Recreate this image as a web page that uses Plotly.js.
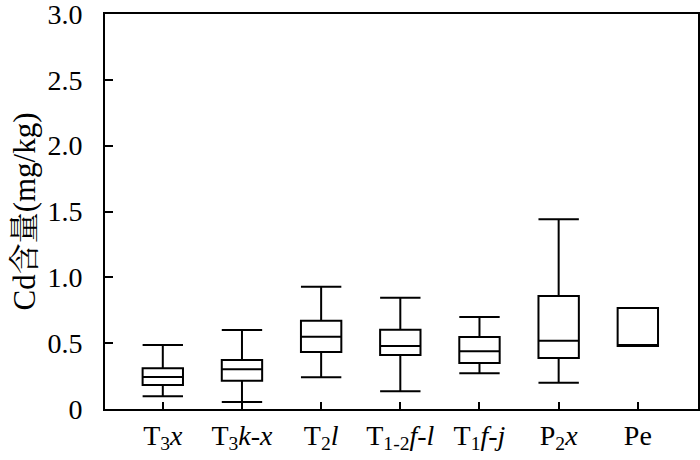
<!DOCTYPE html>
<html><head><meta charset="utf-8">
<script src="https://cdn.plot.ly/plotly-3.0.1.min.js"></script>
<style>html,body{margin:0;padding:0;background:#fff;}#chart{width:700px;height:460px;}</style>
</head><body><div id="chart"></div>
<script>
const categories = ['T<sub>3</sub><i>x</i>','T<sub>3</sub><i>k</i>-<i>x</i>','T<sub>2</sub><i>l</i>','T<sub>1-2</sub><i>f</i>-<i>l</i>','T<sub>1</sub><i>f</i>-<i>j</i>','P<sub>2</sub><i>x</i>','Pe'];
const lowerWhisker = [0.096, 0.053, 0.241, 0.134, 0.271, 0.200, 0.478];
const q1Values     = [0.182, 0.215, 0.433, 0.410, 0.349, 0.387, 0.478];
const medianValues = [0.243, 0.301, 0.549, 0.478, 0.438, 0.519, 0.486];
const q3Values     = [0.309, 0.372, 0.671, 0.602, 0.547, 0.858, 0.767];
const upperWhisker = [0.486, 0.600, 0.929, 0.845, 0.699, 1.441, 0.767];
const yTickVals = [0, 0.5, 1.0, 1.5, 2.0, 2.5, 3.0];
const yTickText = ['0', '0.5', '1.0', '1.5', '2.0', '2.5', '3.0'];

const trace = {
  type: 'box',
  x: categories,
  q1: q1Values, median: medianValues, q3: q3Values,
  lowerfence: lowerWhisker, upperfence: upperWhisker,
  boxpoints: false,
  width: 0.51,
  whiskerwidth: 1,
  fillcolor: 'rgba(0,0,0,0)',
  line: {color: '#000', width: 2},
  hoverinfo: 'skip'
};
const fontFam = 'Liberation Serif, Times New Roman, serif';
const layout = {
  width: 700, height: 460,
  margin: {l: 105, r: 2, t: 14, b: 51},
  paper_bgcolor: '#fff', plot_bgcolor: '#fff',
  showlegend: false,
  font: {family: fontFam, color: '#000', size: 28},
  xaxis: {
    type: 'category',
    range: [-0.73, 6.76],
    showline: true, linecolor: '#000', linewidth: 2, mirror: true,
    ticks: 'inside', ticklen: 7, tickwidth: 2, tickcolor: '#000',
    showgrid: false, zeroline: false,
    tickfont: {family: fontFam, size: 28, color: '#000'}
  },
  yaxis: {
    range: [0, 3.0],
    tickvals: yTickVals, ticktext: yTickText,
    showline: true, linecolor: '#000', linewidth: 2, mirror: true,
    ticks: 'inside', ticklen: 8, tickwidth: 2, tickcolor: '#000',
    ticklabelstandoff: 15,
    ticklabeloverflow: 'allow',
    showgrid: false, zeroline: false,
    tickfont: {family: fontFam, size: 28, color: '#000'},
    title: {text: 'Cd含量(mg/kg)', font: {family: 'Liberation Serif, Noto Serif CJK SC, Noto Sans CJK SC, serif', size: 31, color: '#000'}, standoff: 3}
  }
};
Plotly.newPlot('chart', [trace], layout, {staticPlot: true, displayModeBar: false});
</script></body></html>
